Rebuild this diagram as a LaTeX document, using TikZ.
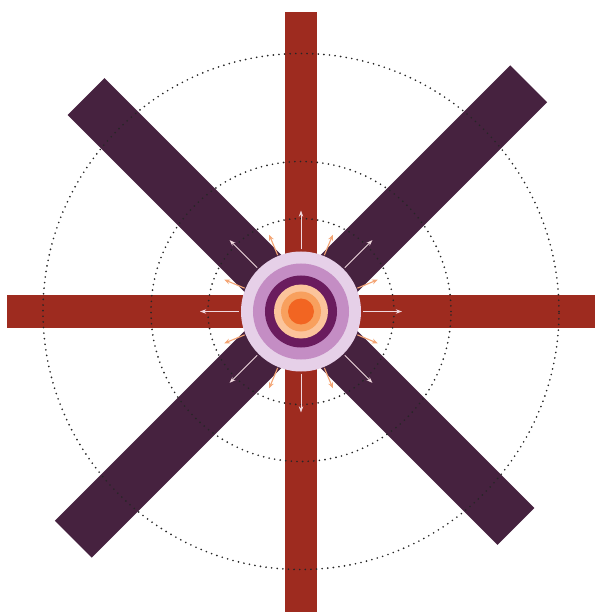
\documentclass[tikz,border=0pt]{standalone}
\usetikzlibrary{arrows.meta}

\definecolor{barred}{HTML}{9E2B1F}
\definecolor{barplum}{HTML}{46223F}
\definecolor{haloA}{HTML}{E6D0E8}
\definecolor{haloB}{HTML}{C48DC4}
\definecolor{haloC}{HTML}{6A1C5E}
\definecolor{coreA}{HTML}{FBC49B}
\definecolor{coreB}{HTML}{F8A05E}
\definecolor{coreC}{HTML}{F26522}
\definecolor{rayarrow}{HTML}{F0D8DE}
\definecolor{fluxarrow}{HTML}{F4A676}

\tikzset{
  ring/.style={draw=black!85, line width=2.1pt, line cap=round,
               dash pattern=on 0pt off 6.4pt},
  rayline/.style={draw=rayarrow, line width=1.1pt,
                  -{Stealth[length=7pt, width=5pt]}},
  fluxline/.style={draw=fluxarrow, line width=1.3pt,
                   -{Stealth[length=6.5pt, width=5.5pt]}}
}

\begin{document}
\begin{tikzpicture}[x=0.4mm, y=0.4mm]
  \useasboundingbox (-301,-300.5) rectangle (294,311.5);
  \fill[white] (-301,-300.5) rectangle (294,311.5);

  % ---- the four arms: straight ones in red, slanted ones in plum ----
  \fill[barred] (-16,-310) rectangle (16,299.5);
  \fill[barred] (-294,-16) rectangle (300,16);
  \fill[barplum, rotate=45]  (-322,-26) rectangle (322,26);
  \fill[barplum, rotate=-45] (-304,-26) rectangle (304,26);

  % ---- dotted rings round the centre ----
  \foreach \r in {93,150,258}
    \draw[ring] (0,0) circle (\r);

  % ---- arrows leaving the core: long ones on the arms, short ones between ----
  \foreach \a in {0,45,...,315}
    \draw[rayline] (\a:62) -- (\a:101);
  \foreach \a in {22.5,67.5,...,337.5}
    \draw[fluxline] (\a:61) -- (\a:83);

  % ---- the core itself, outermost shell first ----
  \fill[haloA] (0,0) circle (60);
  \fill[haloB] (0,0) circle (48);
  \fill[haloC] (0,0) circle (36);
  \fill[coreA] (0,0) circle (27);
  \fill[coreB] (0,0) circle (20);
  \fill[coreC] (0,0) circle (13);
\end{tikzpicture}
\end{document}
